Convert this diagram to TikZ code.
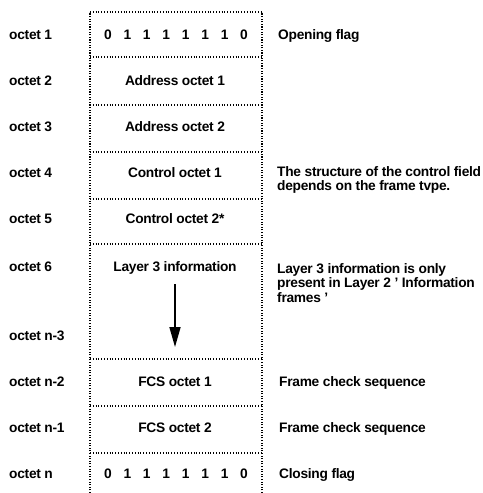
\documentclass[tikz,border=0pt]{standalone}
\usepackage{fontspec}
\setmainfont{Liberation Sans}[LetterSpace=-2]
\usetikzlibrary{arrows.meta}
\newcommand{\flagbits}{0\hspace{11.8bp}1\hspace{11.8bp}1\hspace{11.8bp}1\hspace{11.8bp}1\hspace{11.8bp}1\hspace{11.8bp}1\hspace{11.8bp}0}
\begin{document}
\begin{tikzpicture}[x=1bp,y=-1bp,
  txt/.style={font=\fontsize{13.8}{14.6}\selectfont\bfseries, inner sep=0pt},
  lbl/.style={txt, anchor=west, text height=10bp, text depth=2.9bp},
  cell/.style={txt, anchor=center, text height=10bp, text depth=2.9bp},
  note/.style={txt, anchor=west, align=left},
  border/.style={line width=1.4bp, dash pattern=on 1.1bp off 1.5bp},
  sep/.style={line width=1.1bp, dash pattern=on 1bp off 1.8bp},
  flow/.style={line width=1.7bp, -{Triangle[length=20bp, width=11bp]}}]
\useasboundingbox (0,0) rectangle (483,493);
% frame
\draw[border] (90,493) -- (90,12);
\draw[border] (262,493) -- (262,12);
\draw[sep] (90,12) -- (262,12);
\foreach \y in {57,105,152,199,244,359,406,453}
  \draw[sep] (90,\y) -- (262,\y);
% octet labels
\node[lbl] (o1) at (9,36) {octet 1};
\node[lbl] (o2) at (9,82) {octet 2};
\node[lbl] (o3) at (9,128) {octet 3};
\node[lbl] (o4) at (9,174) {octet 4};
\node[lbl] (o5) at (9,220) {octet 5};
\node[lbl] (o6) at (9,268) {octet 6};
\node[lbl] (on3) at (9,337) {octet n-3};
\node[lbl] (on2) at (9,383) {octet n-2};
\node[lbl] (on1) at (9,429) {octet n-1};
\node[lbl] (on) at (9,475) {octet n};
% cells
\node[cell] (c1) at (176,36) {\flagbits};
\node[cell] (c2) at (175,82) {Address octet 1};
\node[cell] (c3) at (175,128) {Address octet 2};
\node[cell] (c4) at (175,174) {Control octet 1};
\node[cell] (c5) at (175,220) {Control octet 2*};
\node[cell] (c6) at (175,268) {Layer 3 information};
\node[cell] (cn2) at (175,383) {FCS octet 1};
\node[cell] (cn1) at (175,429) {FCS octet 2};
\node[cell] (cn) at (176,475) {\flagbits};
\coordinate (tip) at (175,347);
\draw[flow] (175,284) -- (tip);
% notes
\node[lbl] (n1) at (278,36) {Opening flag};
\node[note] (n4) at (277,180) {The structure of the control field\\depends on the frame tvpe.};
\node[note] (n6) at (277,283) {Layer 3 information is only\\present in Layer 2 ' Information\\frames '};
\node[lbl] (nn2) at (279,383) {Frame check sequence};
\node[lbl] (nn1) at (279,429) {Frame check sequence};
\node[lbl] (nn) at (279,475) {Closing flag};
\end{tikzpicture}
\end{document}
